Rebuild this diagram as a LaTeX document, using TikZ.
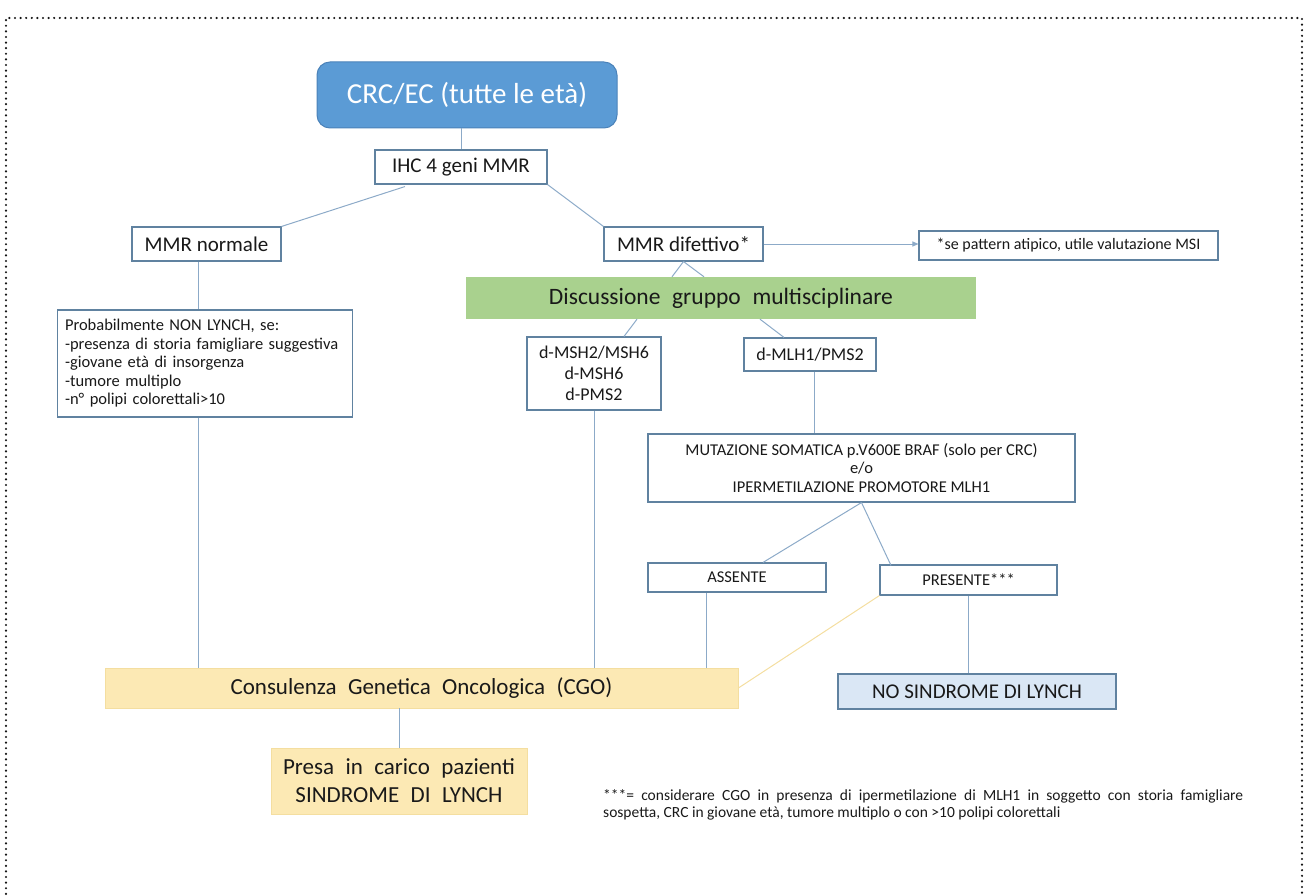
\documentclass[tikz,border=0pt]{standalone}
\usepackage{fontspec}
\setmainfont{Carlito}
\newfontfamily\widefont[WordSpace=2.2]{Carlito}
\usetikzlibrary{arrows.meta,calc}
\definecolor{boxline}{RGB}{96,130,160}
\definecolor{linkc}{RGB}{140,170,200}
\definecolor{crcfill}{RGB}{91,155,213}
\definecolor{crcline}{RGB}{75,130,185}
\definecolor{greenfill}{RGB}{169,209,142}
\definecolor{yelfill}{RGB}{252,233,180}
\definecolor{yelline}{RGB}{244,222,160}
\definecolor{bluefill}{RGB}{218,231,245}
\definecolor{txt}{RGB}{25,25,25}
\definecolor{dotc}{RGB}{20,20,20}
\begin{document}
\begin{tikzpicture}[x=1pt,y=-1pt,
  box/.style={draw=boxline, line width=1.1pt, fill=white, inner sep=0pt, text=txt, align=center},
  crcbox/.style={draw=crcline, line width=1pt, fill=crcfill, rounded corners=13pt, inner sep=0pt, text=white},
  greenbox/.style={fill=greenfill, inner sep=0pt, text=txt},
  yelbox/.style={draw=yelline, line width=0.8pt, fill=yelfill, inner sep=0pt, text=txt, align=center},
  bluebox/.style={draw=boxline, line width=1.1pt, fill=bluefill, inner sep=0pt, text=txt},
  link/.style={draw=linkc, line width=1pt},
  faintlink/.style={draw=yelline, line width=1pt},
  dotborder/.style={draw=dotc, line width=2.4pt, line cap=round, dash pattern=on 0pt off 5.6pt}]
\useasboundingbox (0,0) rectangle (1306,896);
\draw[dotborder] (6,905) -- (6,18) -- (1302,18) -- (1302,905);

% nodes
\node[crcbox, minimum width=300pt, minimum height=66pt, font=\fontsize{29}{33}\selectfont] (crc) at (467,95) {CRC/EC (tutte le età)};
\node[box, minimum width=172pt, minimum height=34pt, font=\fontsize{21}{25}\selectfont] (ihc) at (461,167) {IHC 4 geni MMR};
\node[box, minimum width=149pt, minimum height=34pt, font=\fontsize{21}{25}\selectfont] (mmrn) at (206.5,244) {MMR normale};
\node[box, minimum width=159pt, minimum height=34pt, font=\fontsize{21}{25}\selectfont] (mmrd) at (683.5,244) {MMR difettivo*};
\node[box, minimum width=299pt, minimum height=29pt, font=\fontsize{16}{19}\selectfont] (note) at (1068.5,245.5) {*se pattern atipico, utile valutazione MSI};
\node[greenbox, minimum width=510pt, minimum height=42pt, font=\widefont\fontsize{23.5}{27}\selectfont] (disc) at (721,298) {Discussione gruppo multisciplinare};
\node[box, minimum width=295pt, minimum height=107pt, text width=280pt, align=left, font=\fontsize{16.5}{18.5}\selectfont] (prob) at (205,363.5) {\hyphenpenalty=10000 Probabilmente NON LYNCH, se:\\-presenza di storia famigliare suggestiva\\-giovane età di insorgenza\\-tumore multiplo\\-n° polipi colorettali>10};
\node[box, minimum width=134pt, minimum height=73pt, font=\fontsize{18}{21}\selectfont] (msh) at (594,373.5) {d-MSH2/MSH6\\d-MSH6\\d-PMS2};
\node[box, minimum width=132pt, minimum height=33pt, font=\fontsize{18}{21}\selectfont] (mlh) at (810,354.5) {d-MLH1/PMS2};
\node[box, minimum width=427pt, minimum height=68pt, font=\fontsize{16.5}{18.5}\selectfont] (mut) at (861.5,468) {MUTAZIONE SOMATICA p.V600E BRAF (solo per CRC)\\e/o\\IPERMETILAZIONE PROMOTORE MLH1};
\node[box, minimum width=178pt, minimum height=29pt, font=\fontsize{16.5}{19}\selectfont] (ass) at (737,577.5) {ASSENTE};
\node[box, minimum width=177pt, minimum height=30pt, font=\fontsize{16.5}{19}\selectfont] (pres) at (968.5,580) {PRESENTE***};
\node[yelbox, minimum width=633pt, minimum height=40pt, font=\widefont\fontsize{23}{27}\selectfont] (cgo) at (421.5,688) {Consulenza Genetica Oncologica (CGO)};
\node[bluebox, minimum width=278pt, minimum height=35pt, font=\fontsize{21}{25}\selectfont] (nosind) at (977,691.5) {NO SINDROME DI LYNCH};
\node[yelbox, minimum width=256pt, minimum height=66pt, font=\widefont\fontsize{23}{28}\selectfont] (presa) at (399,781) {Presa in carico pazienti\\SINDROME DI LYNCH};
\node[anchor=north west, inner sep=0pt, align=left, text=txt, font=\fontsize{15.5}{17}\selectfont] (foot) at (603,789) {\makebox[640pt][s]{***= considerare CGO in presenza di ipermetilazione di MLH1 in soggetto con storia famigliare}\\sospetta, CRC in giovane età, tumore multiplo o con >10 polipi colorettali};

% connectors
\coordinate (lx) at (198,0);
\draw[link] (ihc.north |- crc.south) -- (ihc.north);
\draw[link] ($(ihc.south)+(-56,2)$) -- (mmrn.north east);
\draw[link] (ihc.south east) -- (mmrd.north west);
\draw[link] (mmrd.south) -- ($(disc.north)+(-49,0)$);
\draw[link] (mmrd.south) -- ($(disc.north)+(-17,0)$);
\draw[link, -{Triangle[length=6pt,width=5pt]}] (mmrd.east) -- (mmrd.east -| note.west);
\draw[link] (lx |- mmrn.south) -- (lx |- prob.north);
\draw[link] (lx |- prob.south) -- (lx |- cgo.north);
\draw[link] ($(disc.south)+(-84,0)$) -- ($(msh.north)+(30,0)$);
\draw[link] ($(disc.south)+(39,0)$) -- ($(mlh.north)+(-26,0)$);
\draw[link] (msh.south) -- (msh.south |- cgo.north);
\draw[link] ($(mlh.south)+(4,0)$) coordinate (a1) -- (a1 |- mut.north);
\draw[link] (mut.south) -- ($(ass.north)+(26,0)$);
\draw[link] (mut.south) -- ($(pres.north)+(-77.5,1)$);
\draw[link] ($(ass.south)+(-31,0)$) coordinate (a2) -- (a2 |- cgo.north);
\draw[faintlink] (pres.south west) -- (cgo.east);
\draw[link] (pres.south) -- (pres.south |- nosind.north);
\draw[link] (presa.north |- cgo.south) -- (presa.north);
\end{tikzpicture}
\end{document}
